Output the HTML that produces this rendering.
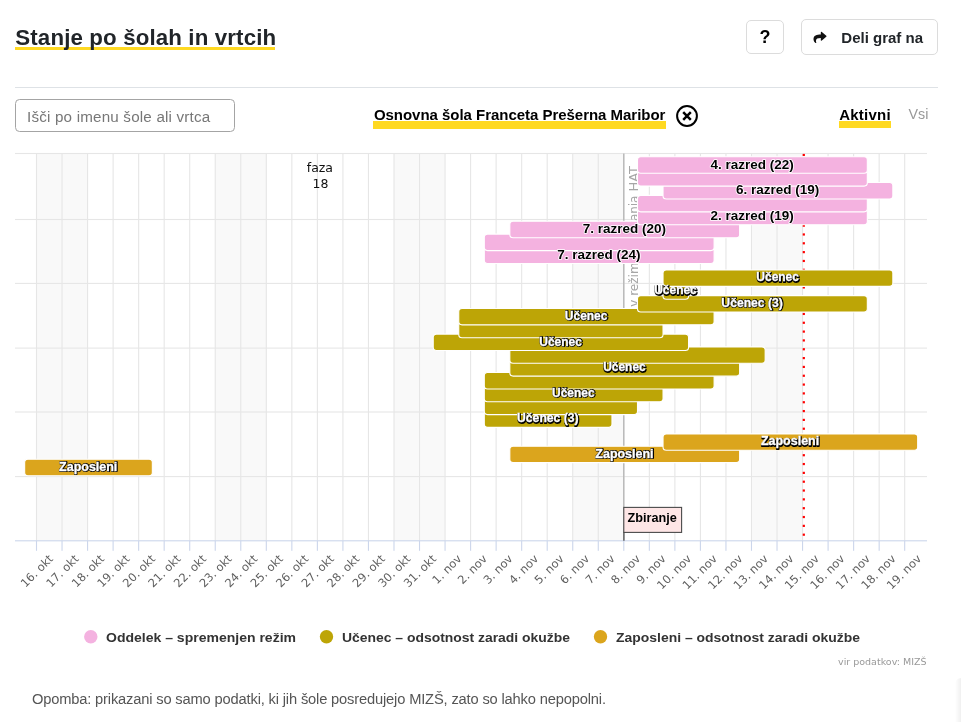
<!DOCTYPE html>
<html lang="sl"><head><meta charset="utf-8"><title>Stanje po šolah in vrtcih</title>
<style>
html,body{margin:0;padding:0;background:#fff;}
body{width:961px;height:722px;position:relative;overflow:hidden;font-family:"Liberation Sans",sans-serif;color:#212529;}
.abs{position:absolute;white-space:nowrap;line-height:1;}
.title{left:15.3px;top:27px;font-size:22.3px;font-weight:bold;color:#212529;letter-spacing:0.13px;}
.title span{display:inline-block;}
.tul{left:15px;top:46.9px;width:260px;height:3.6px;background:#ffd922;}
.btn{border:1px solid #dcdcdc;border-radius:5px;box-sizing:border-box;background:#fff;}
.sep{left:15px;top:86.7px;width:923px;height:1.1px;background:#dee2e6;}
.inp{left:15px;top:99.4px;width:219.7px;height:32.5px;border:1px solid #a4a4a4;border-radius:4.5px;box-sizing:border-box;}
.dl{font-family:"Liberation Sans",sans-serif;font-weight:bold;font-size:12.5px;}
.dk{fill:#000;stroke:#fff;stroke-width:1.6px;paint-order:stroke;stroke-linejoin:round;}
.sh{fill:#000;stroke:#000;stroke-width:1.9px;stroke-linejoin:round;}
.lt{fill:#fff;stroke:#fff;stroke-width:0.35px;}
.xl{font-family:"DejaVu Sans","Liberation Sans",sans-serif;font-size:11.5px;fill:#5e5e5e;}
</style></head><body>
<div class="abs tul"></div>
<div class="abs title" id="title">Stanje po šolah in vrtcih</div>
<div class="abs btn" style="left:745.5px;top:19.8px;width:38px;height:34px;"></div>
<div class="abs" id="q" style="left:759.5px;top:28px;font-size:18px;font-weight:bold;color:#000;">?</div>
<div class="abs btn" style="left:801.3px;top:18.8px;width:136.4px;height:36.2px;"></div>
<svg class="abs" style="left:812.8px;top:31.2px" width="14" height="11.4" viewBox="0 0 512 448"><path fill="#111" d="M503.7 189.8L327.7 37.9C312.3 24.5 288 35.3 288 56v80.1C127.4 137.9 0 170.1 0 322.3c0 61.4 39.6 122.3 83.3 154.1 13.7 9.9 33.1-2.5 28.1-18.6C66.1 312.8 133 274.3 288 272.1V360c0 20.7 24.3 31.5 39.7 18.2l176-152c11.1-9.6 11.1-26.8 0-36.4z"/></svg>
<div class="abs" id="deli" style="left:841.3px;top:30.2px;font-size:15px;font-weight:bold;color:#212529;">Deli graf na</div>
<div class="abs sep"></div>
<div class="abs inp"></div>
<div class="abs" id="ph" style="left:27px;top:108.5px;font-size:15.2px;color:#777;letter-spacing:0.19px;">Išči po imenu šole ali vrtca</div>
<div class="abs" style="left:373px;top:120.7px;width:293px;height:7.9px;background:#ffd922;"></div>
<div class="abs" id="school" style="left:373.9px;top:106.6px;font-size:15px;font-weight:bold;color:#000;letter-spacing:-0.03px;">Osnovna šola Franceta Prešerna Maribor</div>
<svg class="abs" style="left:675.2px;top:104.1px" width="24" height="24" viewBox="0 0 24 24"><circle cx="12" cy="12" r="9.9" fill="none" stroke="#000" stroke-width="2"/><path d="M8.2 8.2L15.8 15.8M15.8 8.2L8.2 15.8" stroke="#000" stroke-width="2.5" stroke-linecap="butt"/></svg>
<div class="abs" style="left:838.8px;top:120.6px;width:52.4px;height:7.9px;background:#ffd922;"></div>
<div class="abs" id="akt" style="left:839.2px;top:106.6px;font-size:15px;font-weight:bold;color:#000;letter-spacing:0.25px;">Aktivni</div>
<div class="abs" id="vsi" style="left:908.5px;top:107px;font-size:14.3px;color:#999;">Vsi</div>
<svg width="961" height="722" viewBox="0 0 961 722" style="position:absolute;left:0;top:0">
<rect x="36.50" y="153.50" width="51.07" height="387.30" fill="#f9f9f9"/>
<rect x="215.25" y="153.50" width="51.07" height="387.30" fill="#f9f9f9"/>
<rect x="393.99" y="153.50" width="51.07" height="387.30" fill="#f9f9f9"/>
<rect x="572.74" y="153.50" width="51.07" height="387.30" fill="#f9f9f9"/>
<rect x="751.48" y="153.50" width="51.07" height="387.30" fill="#f9f9f9"/>
<rect x="35.95" y="153.50" width="1.1" height="387.30" fill="#e6e6e6"/>
<rect x="61.48" y="153.50" width="1.1" height="387.30" fill="#e6e6e6"/>
<rect x="87.02" y="153.50" width="1.1" height="387.30" fill="#e6e6e6"/>
<rect x="112.56" y="153.50" width="1.1" height="387.30" fill="#e6e6e6"/>
<rect x="138.09" y="153.50" width="1.1" height="387.30" fill="#e6e6e6"/>
<rect x="163.62" y="153.50" width="1.1" height="387.30" fill="#e6e6e6"/>
<rect x="189.16" y="153.50" width="1.1" height="387.30" fill="#e6e6e6"/>
<rect x="214.69" y="153.50" width="1.1" height="387.30" fill="#e6e6e6"/>
<rect x="240.23" y="153.50" width="1.1" height="387.30" fill="#e6e6e6"/>
<rect x="265.76" y="153.50" width="1.1" height="387.30" fill="#e6e6e6"/>
<rect x="291.30" y="153.50" width="1.1" height="387.30" fill="#e6e6e6"/>
<rect x="316.83" y="153.50" width="1.1" height="387.30" fill="#e6e6e6"/>
<rect x="342.37" y="153.50" width="1.1" height="387.30" fill="#e6e6e6"/>
<rect x="367.90" y="153.50" width="1.1" height="387.30" fill="#e6e6e6"/>
<rect x="393.44" y="153.50" width="1.1" height="387.30" fill="#e6e6e6"/>
<rect x="418.97" y="153.50" width="1.1" height="387.30" fill="#e6e6e6"/>
<rect x="444.51" y="153.50" width="1.1" height="387.30" fill="#e6e6e6"/>
<rect x="470.05" y="153.50" width="1.1" height="387.30" fill="#e6e6e6"/>
<rect x="495.58" y="153.50" width="1.1" height="387.30" fill="#e6e6e6"/>
<rect x="521.12" y="153.50" width="1.1" height="387.30" fill="#e6e6e6"/>
<rect x="546.65" y="153.50" width="1.1" height="387.30" fill="#e6e6e6"/>
<rect x="572.19" y="153.50" width="1.1" height="387.30" fill="#e6e6e6"/>
<rect x="597.72" y="153.50" width="1.1" height="387.30" fill="#e6e6e6"/>
<rect x="623.25" y="153.50" width="1.1" height="387.30" fill="#e6e6e6"/>
<rect x="648.79" y="153.50" width="1.1" height="387.30" fill="#e6e6e6"/>
<rect x="674.33" y="153.50" width="1.1" height="387.30" fill="#e6e6e6"/>
<rect x="699.86" y="153.50" width="1.1" height="387.30" fill="#e6e6e6"/>
<rect x="725.40" y="153.50" width="1.1" height="387.30" fill="#e6e6e6"/>
<rect x="750.93" y="153.50" width="1.1" height="387.30" fill="#e6e6e6"/>
<rect x="776.47" y="153.50" width="1.1" height="387.30" fill="#e6e6e6"/>
<rect x="802.00" y="153.50" width="1.1" height="387.30" fill="#e6e6e6"/>
<rect x="827.54" y="153.50" width="1.1" height="387.30" fill="#e6e6e6"/>
<rect x="853.07" y="153.50" width="1.1" height="387.30" fill="#e6e6e6"/>
<rect x="878.61" y="153.50" width="1.1" height="387.30" fill="#e6e6e6"/>
<rect x="904.14" y="153.50" width="1.1" height="387.30" fill="#e6e6e6"/>
<rect x="15" y="152.95" width="912" height="1.1" fill="#e6e6e6"/>
<rect x="15" y="218.95" width="912" height="1.1" fill="#e6e6e6"/>
<rect x="15" y="282.85" width="912" height="1.1" fill="#e6e6e6"/>
<rect x="15" y="347.55" width="912" height="1.1" fill="#e6e6e6"/>
<rect x="15" y="411.45" width="912" height="1.1" fill="#e6e6e6"/>
<rect x="15" y="476.05" width="912" height="1.1" fill="#e6e6e6"/>
<rect x="623.15" y="153.50" width="1.3" height="387.30" fill="#b4b4b4"/>
<text transform="translate(637.6,166) rotate(-90)" text-anchor="end" textLength="25.5" lengthAdjust="spacingAndGlyphs" font-family="'DejaVu Sans','Liberation Sans',sans-serif" font-size="12.2" fill="#a6a6a6">HAT</text>
<text transform="translate(637.6,195.6) rotate(-90)" text-anchor="end" textLength="56.6" lengthAdjust="spacingAndGlyphs" font-family="'DejaVu Sans','Liberation Sans',sans-serif" font-size="12.2" fill="#a6a6a6">testiranja</text>
<text transform="translate(637.6,254.8) rotate(-90)" text-anchor="end" textLength="128.8" lengthAdjust="spacingAndGlyphs" font-family="'DejaVu Sans','Liberation Sans',sans-serif" font-size="12.2" fill="#a6a6a6">Sprememba v režimu</text>
<text font-family="'DejaVu Sans','Liberation Sans',sans-serif" font-size="12.5" fill="#111" text-anchor="middle"><tspan x="319.9" y="171.8">faza</tspan><tspan x="320.5" y="187.8">18</tspan></text>
<rect x="802.70" y="153.90" width="2.2" height="2.2" fill="#ff0000"/>
<rect x="802.70" y="162.73" width="2.2" height="2.2" fill="#ff0000"/>
<rect x="802.70" y="171.56" width="2.2" height="2.2" fill="#ff0000"/>
<rect x="802.70" y="180.39" width="2.2" height="2.2" fill="#ff0000"/>
<rect x="802.70" y="189.22" width="2.2" height="2.2" fill="#ff0000"/>
<rect x="802.70" y="198.05" width="2.2" height="2.2" fill="#ff0000"/>
<rect x="802.70" y="206.88" width="2.2" height="2.2" fill="#ff0000"/>
<rect x="802.70" y="215.71" width="2.2" height="2.2" fill="#ff0000"/>
<rect x="802.70" y="224.54" width="2.2" height="2.2" fill="#ff0000"/>
<rect x="802.70" y="233.37" width="2.2" height="2.2" fill="#ff0000"/>
<rect x="802.70" y="242.20" width="2.2" height="2.2" fill="#ff0000"/>
<rect x="802.70" y="251.03" width="2.2" height="2.2" fill="#ff0000"/>
<rect x="802.70" y="259.86" width="2.2" height="2.2" fill="#ff0000"/>
<rect x="802.70" y="268.69" width="2.2" height="2.2" fill="#ff0000"/>
<rect x="802.70" y="277.52" width="2.2" height="2.2" fill="#ff0000"/>
<rect x="802.70" y="286.35" width="2.2" height="2.2" fill="#ff0000"/>
<rect x="802.70" y="295.18" width="2.2" height="2.2" fill="#ff0000"/>
<rect x="802.70" y="304.01" width="2.2" height="2.2" fill="#ff0000"/>
<rect x="802.70" y="312.84" width="2.2" height="2.2" fill="#ff0000"/>
<rect x="802.70" y="321.67" width="2.2" height="2.2" fill="#ff0000"/>
<rect x="802.70" y="330.50" width="2.2" height="2.2" fill="#ff0000"/>
<rect x="802.70" y="339.33" width="2.2" height="2.2" fill="#ff0000"/>
<rect x="802.70" y="348.16" width="2.2" height="2.2" fill="#ff0000"/>
<rect x="802.70" y="356.99" width="2.2" height="2.2" fill="#ff0000"/>
<rect x="802.70" y="365.82" width="2.2" height="2.2" fill="#ff0000"/>
<rect x="802.70" y="374.65" width="2.2" height="2.2" fill="#ff0000"/>
<rect x="802.70" y="383.48" width="2.2" height="2.2" fill="#ff0000"/>
<rect x="802.70" y="392.31" width="2.2" height="2.2" fill="#ff0000"/>
<rect x="802.70" y="401.14" width="2.2" height="2.2" fill="#ff0000"/>
<rect x="802.70" y="409.97" width="2.2" height="2.2" fill="#ff0000"/>
<rect x="802.70" y="418.80" width="2.2" height="2.2" fill="#ff0000"/>
<rect x="802.70" y="427.63" width="2.2" height="2.2" fill="#ff0000"/>
<rect x="802.70" y="436.46" width="2.2" height="2.2" fill="#ff0000"/>
<rect x="802.70" y="445.29" width="2.2" height="2.2" fill="#ff0000"/>
<rect x="802.70" y="454.12" width="2.2" height="2.2" fill="#ff0000"/>
<rect x="802.70" y="462.95" width="2.2" height="2.2" fill="#ff0000"/>
<rect x="802.70" y="471.78" width="2.2" height="2.2" fill="#ff0000"/>
<rect x="802.70" y="480.61" width="2.2" height="2.2" fill="#ff0000"/>
<rect x="802.70" y="489.44" width="2.2" height="2.2" fill="#ff0000"/>
<rect x="802.70" y="498.27" width="2.2" height="2.2" fill="#ff0000"/>
<rect x="802.70" y="507.10" width="2.2" height="2.2" fill="#ff0000"/>
<rect x="802.70" y="515.93" width="2.2" height="2.2" fill="#ff0000"/>
<rect x="802.70" y="524.76" width="2.2" height="2.2" fill="#ff0000"/>
<rect x="802.70" y="533.59" width="2.2" height="2.2" fill="#ff0000"/>
<rect x="24.66" y="459.30" width="127.68" height="16.40" rx="3.3" ry="3.3" fill="#dba51d" stroke="#fff" stroke-width="1.1"/>
<rect x="509.82" y="446.20" width="229.81" height="16.40" rx="3.3" ry="3.3" fill="#dba51d" stroke="#fff" stroke-width="1.1"/>
<rect x="663.03" y="433.90" width="254.65" height="16.40" rx="3.3" ry="3.3" fill="#dba51d" stroke="#fff" stroke-width="1.1"/>
<rect x="484.29" y="411.02" width="127.68" height="16.40" rx="3.3" ry="3.3" fill="#bda506" stroke="#fff" stroke-width="1.1"/>
<rect x="484.29" y="398.20" width="153.21" height="16.40" rx="3.3" ry="3.3" fill="#bda506" stroke="#fff" stroke-width="1.1"/>
<rect x="484.29" y="385.38" width="178.75" height="16.40" rx="3.3" ry="3.3" fill="#bda506" stroke="#fff" stroke-width="1.1"/>
<rect x="484.29" y="372.56" width="229.82" height="16.40" rx="3.3" ry="3.3" fill="#bda506" stroke="#fff" stroke-width="1.1"/>
<rect x="509.82" y="359.74" width="229.81" height="16.40" rx="3.3" ry="3.3" fill="#bda506" stroke="#fff" stroke-width="1.1"/>
<rect x="509.82" y="346.92" width="255.35" height="16.40" rx="3.3" ry="3.3" fill="#bda506" stroke="#fff" stroke-width="1.1"/>
<rect x="433.22" y="334.10" width="255.35" height="16.40" rx="3.3" ry="3.3" fill="#bda506" stroke="#fff" stroke-width="1.1"/>
<rect x="458.75" y="321.28" width="204.28" height="16.40" rx="3.3" ry="3.3" fill="#bda506" stroke="#fff" stroke-width="1.1"/>
<rect x="458.75" y="308.46" width="255.35" height="16.40" rx="3.3" ry="3.3" fill="#bda506" stroke="#fff" stroke-width="1.1"/>
<rect x="637.50" y="295.64" width="229.82" height="16.40" rx="3.3" ry="3.3" fill="#bda506" stroke="#fff" stroke-width="1.1"/>
<rect x="663.03" y="282.82" width="25.54" height="16.40" rx="3.3" ry="3.3" fill="#bda506" stroke="#fff" stroke-width="1.1"/>
<rect x="663.03" y="270.00" width="229.82" height="16.40" rx="3.3" ry="3.3" fill="#bda506" stroke="#fff" stroke-width="1.1"/>
<rect x="484.29" y="247.00" width="229.82" height="16.50" rx="3.3" ry="3.3" fill="#f4b2e0" stroke="#fff" stroke-width="1.1"/>
<rect x="484.29" y="234.10" width="229.82" height="16.50" rx="3.3" ry="3.3" fill="#f4b2e0" stroke="#fff" stroke-width="1.1"/>
<rect x="509.82" y="221.20" width="229.81" height="16.50" rx="3.3" ry="3.3" fill="#f4b2e0" stroke="#fff" stroke-width="1.1"/>
<rect x="637.50" y="208.30" width="229.82" height="16.50" rx="3.3" ry="3.3" fill="#f4b2e0" stroke="#fff" stroke-width="1.1"/>
<rect x="637.50" y="195.40" width="229.82" height="16.50" rx="3.3" ry="3.3" fill="#f4b2e0" stroke="#fff" stroke-width="1.1"/>
<rect x="663.03" y="182.50" width="229.82" height="16.50" rx="3.3" ry="3.3" fill="#f4b2e0" stroke="#fff" stroke-width="1.1"/>
<rect x="637.50" y="169.60" width="229.82" height="16.50" rx="3.3" ry="3.3" fill="#f4b2e0" stroke="#fff" stroke-width="1.1"/>
<rect x="637.50" y="156.70" width="229.82" height="16.50" rx="3.3" ry="3.3" fill="#f4b2e0" stroke="#fff" stroke-width="1.1"/>
<text x="752.11" y="168.50" text-anchor="middle" textLength="83.3" lengthAdjust="spacingAndGlyphs" class="dl dk">4. razred (22)</text>
<text x="777.64" y="194.30" text-anchor="middle" textLength="83.3" lengthAdjust="spacingAndGlyphs" class="dl dk">6. razred (19)</text>
<text x="752.11" y="220.10" text-anchor="middle" textLength="83.3" lengthAdjust="spacingAndGlyphs" class="dl dk">2. razred (19)</text>
<text x="624.43" y="233.00" text-anchor="middle" textLength="83.3" lengthAdjust="spacingAndGlyphs" class="dl dk">7. razred (20)</text>
<text x="598.90" y="258.80" text-anchor="middle" textLength="83.3" lengthAdjust="spacingAndGlyphs" class="dl dk">7. razred (24)</text>
<text x="778.09" y="281.80" text-anchor="middle" textLength="42.6" lengthAdjust="spacingAndGlyphs" class="dl sh">Učenec</text>
<text x="777.64" y="281.40" text-anchor="middle" textLength="42.6" lengthAdjust="spacingAndGlyphs" class="dl lt">Učenec</text>
<text x="675.95" y="294.62" text-anchor="middle" textLength="42.6" lengthAdjust="spacingAndGlyphs" class="dl sh">Učenec</text>
<text x="675.50" y="294.22" text-anchor="middle" textLength="42.6" lengthAdjust="spacingAndGlyphs" class="dl lt">Učenec</text>
<text x="752.56" y="307.44" text-anchor="middle" textLength="61.5" lengthAdjust="spacingAndGlyphs" class="dl sh">Učenec (3)</text>
<text x="752.11" y="307.04" text-anchor="middle" textLength="61.5" lengthAdjust="spacingAndGlyphs" class="dl lt">Učenec (3)</text>
<text x="586.58" y="320.26" text-anchor="middle" textLength="42.6" lengthAdjust="spacingAndGlyphs" class="dl sh">Učenec</text>
<text x="586.13" y="319.86" text-anchor="middle" textLength="42.6" lengthAdjust="spacingAndGlyphs" class="dl lt">Učenec</text>
<text x="561.05" y="345.90" text-anchor="middle" textLength="42.6" lengthAdjust="spacingAndGlyphs" class="dl sh">Učenec</text>
<text x="560.60" y="345.50" text-anchor="middle" textLength="42.6" lengthAdjust="spacingAndGlyphs" class="dl lt">Učenec</text>
<text x="624.88" y="371.54" text-anchor="middle" textLength="42.6" lengthAdjust="spacingAndGlyphs" class="dl sh">Učenec</text>
<text x="624.43" y="371.14" text-anchor="middle" textLength="42.6" lengthAdjust="spacingAndGlyphs" class="dl lt">Učenec</text>
<text x="573.81" y="397.18" text-anchor="middle" textLength="42.6" lengthAdjust="spacingAndGlyphs" class="dl sh">Učenec</text>
<text x="573.36" y="396.78" text-anchor="middle" textLength="42.6" lengthAdjust="spacingAndGlyphs" class="dl lt">Učenec</text>
<text x="548.28" y="422.82" text-anchor="middle" textLength="61.5" lengthAdjust="spacingAndGlyphs" class="dl sh">Učenec (3)</text>
<text x="547.83" y="422.42" text-anchor="middle" textLength="61.5" lengthAdjust="spacingAndGlyphs" class="dl lt">Učenec (3)</text>
<text x="790.51" y="445.70" text-anchor="middle" textLength="58.2" lengthAdjust="spacingAndGlyphs" class="dl sh">Zaposleni</text>
<text x="790.06" y="445.30" text-anchor="middle" textLength="58.2" lengthAdjust="spacingAndGlyphs" class="dl lt">Zaposleni</text>
<text x="624.88" y="458.00" text-anchor="middle" textLength="58.2" lengthAdjust="spacingAndGlyphs" class="dl sh">Zaposleni</text>
<text x="624.43" y="457.60" text-anchor="middle" textLength="58.2" lengthAdjust="spacingAndGlyphs" class="dl lt">Zaposleni</text>
<text x="88.65" y="471.10" text-anchor="middle" textLength="58.2" lengthAdjust="spacingAndGlyphs" class="dl sh">Zaposleni</text>
<text x="88.20" y="470.70" text-anchor="middle" textLength="58.2" lengthAdjust="spacingAndGlyphs" class="dl lt">Zaposleni</text>
<rect x="15" y="540.25" width="912" height="1.1" fill="#ccd6eb"/>
<rect x="35.95" y="540.80" width="1.1" height="10" fill="#ccd6eb"/>
<rect x="61.48" y="540.80" width="1.1" height="10" fill="#ccd6eb"/>
<rect x="87.02" y="540.80" width="1.1" height="10" fill="#ccd6eb"/>
<rect x="112.56" y="540.80" width="1.1" height="10" fill="#ccd6eb"/>
<rect x="138.09" y="540.80" width="1.1" height="10" fill="#ccd6eb"/>
<rect x="163.62" y="540.80" width="1.1" height="10" fill="#ccd6eb"/>
<rect x="189.16" y="540.80" width="1.1" height="10" fill="#ccd6eb"/>
<rect x="214.69" y="540.80" width="1.1" height="10" fill="#ccd6eb"/>
<rect x="240.23" y="540.80" width="1.1" height="10" fill="#ccd6eb"/>
<rect x="265.76" y="540.80" width="1.1" height="10" fill="#ccd6eb"/>
<rect x="291.30" y="540.80" width="1.1" height="10" fill="#ccd6eb"/>
<rect x="316.83" y="540.80" width="1.1" height="10" fill="#ccd6eb"/>
<rect x="342.37" y="540.80" width="1.1" height="10" fill="#ccd6eb"/>
<rect x="367.90" y="540.80" width="1.1" height="10" fill="#ccd6eb"/>
<rect x="393.44" y="540.80" width="1.1" height="10" fill="#ccd6eb"/>
<rect x="418.97" y="540.80" width="1.1" height="10" fill="#ccd6eb"/>
<rect x="444.51" y="540.80" width="1.1" height="10" fill="#ccd6eb"/>
<rect x="470.05" y="540.80" width="1.1" height="10" fill="#ccd6eb"/>
<rect x="495.58" y="540.80" width="1.1" height="10" fill="#ccd6eb"/>
<rect x="521.12" y="540.80" width="1.1" height="10" fill="#ccd6eb"/>
<rect x="546.65" y="540.80" width="1.1" height="10" fill="#ccd6eb"/>
<rect x="572.19" y="540.80" width="1.1" height="10" fill="#ccd6eb"/>
<rect x="597.72" y="540.80" width="1.1" height="10" fill="#ccd6eb"/>
<rect x="623.25" y="540.80" width="1.1" height="10" fill="#ccd6eb"/>
<rect x="648.79" y="540.80" width="1.1" height="10" fill="#ccd6eb"/>
<rect x="674.33" y="540.80" width="1.1" height="10" fill="#ccd6eb"/>
<rect x="699.86" y="540.80" width="1.1" height="10" fill="#ccd6eb"/>
<rect x="725.40" y="540.80" width="1.1" height="10" fill="#ccd6eb"/>
<rect x="750.93" y="540.80" width="1.1" height="10" fill="#ccd6eb"/>
<rect x="776.47" y="540.80" width="1.1" height="10" fill="#ccd6eb"/>
<rect x="802.00" y="540.80" width="1.1" height="10" fill="#ccd6eb"/>
<rect x="827.54" y="540.80" width="1.1" height="10" fill="#ccd6eb"/>
<rect x="853.07" y="540.80" width="1.1" height="10" fill="#ccd6eb"/>
<rect x="878.61" y="540.80" width="1.1" height="10" fill="#ccd6eb"/>
<rect x="904.14" y="540.80" width="1.1" height="10" fill="#ccd6eb"/>
<rect x="623.30" y="531.80" width="1.2" height="9" fill="#555"/>
<rect x="623.80" y="507.4" width="57.8" height="25" fill="#fee6e6" stroke="#4a4a4a" stroke-width="1.1"/>
<text x="652.20" y="522.4" text-anchor="middle" textLength="49.3" lengthAdjust="spacingAndGlyphs" font-family="'Liberation Sans',sans-serif" font-weight="bold" font-size="12.6" fill="#000">Zbiranje</text>
<text transform="translate(53.80,559.50) rotate(-45)" text-anchor="end" class="xl">16. okt</text>
<text transform="translate(79.33,559.50) rotate(-45)" text-anchor="end" class="xl">17. okt</text>
<text transform="translate(104.87,559.50) rotate(-45)" text-anchor="end" class="xl">18. okt</text>
<text transform="translate(130.41,559.50) rotate(-45)" text-anchor="end" class="xl">19. okt</text>
<text transform="translate(155.94,559.50) rotate(-45)" text-anchor="end" class="xl">20. okt</text>
<text transform="translate(181.48,559.50) rotate(-45)" text-anchor="end" class="xl">21. okt</text>
<text transform="translate(207.01,559.50) rotate(-45)" text-anchor="end" class="xl">22. okt</text>
<text transform="translate(232.55,559.50) rotate(-45)" text-anchor="end" class="xl">23. okt</text>
<text transform="translate(258.08,559.50) rotate(-45)" text-anchor="end" class="xl">24. okt</text>
<text transform="translate(283.62,559.50) rotate(-45)" text-anchor="end" class="xl">25. okt</text>
<text transform="translate(309.15,559.50) rotate(-45)" text-anchor="end" class="xl">26. okt</text>
<text transform="translate(334.69,559.50) rotate(-45)" text-anchor="end" class="xl">27. okt</text>
<text transform="translate(360.22,559.50) rotate(-45)" text-anchor="end" class="xl">28. okt</text>
<text transform="translate(385.75,559.50) rotate(-45)" text-anchor="end" class="xl">29. okt</text>
<text transform="translate(411.29,559.50) rotate(-45)" text-anchor="end" class="xl">30. okt</text>
<text transform="translate(436.82,559.50) rotate(-45)" text-anchor="end" class="xl">31. okt</text>
<text transform="translate(462.36,559.50) rotate(-45)" text-anchor="end" class="xl">1. nov</text>
<text transform="translate(487.90,559.50) rotate(-45)" text-anchor="end" class="xl">2. nov</text>
<text transform="translate(513.43,559.50) rotate(-45)" text-anchor="end" class="xl">3. nov</text>
<text transform="translate(538.96,559.50) rotate(-45)" text-anchor="end" class="xl">4. nov</text>
<text transform="translate(564.50,559.50) rotate(-45)" text-anchor="end" class="xl">5. nov</text>
<text transform="translate(590.03,559.50) rotate(-45)" text-anchor="end" class="xl">6. nov</text>
<text transform="translate(615.57,559.50) rotate(-45)" text-anchor="end" class="xl">7. nov</text>
<text transform="translate(641.10,559.50) rotate(-45)" text-anchor="end" class="xl">8. nov</text>
<text transform="translate(666.64,559.50) rotate(-45)" text-anchor="end" class="xl">9. nov</text>
<text transform="translate(692.17,559.50) rotate(-45)" text-anchor="end" class="xl">10. nov</text>
<text transform="translate(717.71,559.50) rotate(-45)" text-anchor="end" class="xl">11. nov</text>
<text transform="translate(743.25,559.50) rotate(-45)" text-anchor="end" class="xl">12. nov</text>
<text transform="translate(768.78,559.50) rotate(-45)" text-anchor="end" class="xl">13. nov</text>
<text transform="translate(794.31,559.50) rotate(-45)" text-anchor="end" class="xl">14. nov</text>
<text transform="translate(819.85,559.50) rotate(-45)" text-anchor="end" class="xl">15. nov</text>
<text transform="translate(845.38,559.50) rotate(-45)" text-anchor="end" class="xl">16. nov</text>
<text transform="translate(870.92,559.50) rotate(-45)" text-anchor="end" class="xl">17. nov</text>
<text transform="translate(896.45,559.50) rotate(-45)" text-anchor="end" class="xl">18. nov</text>
<text transform="translate(921.99,559.50) rotate(-45)" text-anchor="end" class="xl">19. nov</text>
<circle cx="90.8" cy="636.8" r="6.7" fill="#f4b2e0"/>
<text x="106" y="641.6" textLength="190" lengthAdjust="spacingAndGlyphs" font-family="'Liberation Sans',sans-serif" font-weight="bold" font-size="13.2" fill="#333">Oddelek – spremenjen režim</text>
<circle cx="326.5" cy="636.8" r="6.7" fill="#bda506"/>
<text x="342" y="641.6" textLength="228" lengthAdjust="spacingAndGlyphs" font-family="'Liberation Sans',sans-serif" font-weight="bold" font-size="13.2" fill="#333">Učenec – odsotnost zaradi okužbe</text>
<circle cx="600.5" cy="636.8" r="6.7" fill="#dba51d"/>
<text x="616" y="641.6" textLength="244" lengthAdjust="spacingAndGlyphs" font-family="'Liberation Sans',sans-serif" font-weight="bold" font-size="13.2" fill="#333">Zaposleni – odsotnost zaradi okužbe</text>
<text x="926.5" y="664.5" text-anchor="end" font-family="'DejaVu Sans','Liberation Sans',sans-serif" font-size="9.5" fill="#999">vir podatkov: MIZŠ</text>
</svg>
<div class="abs" id="note" style="left:31.9px;top:692.2px;font-size:14.7px;color:#555;letter-spacing:-0.165px;">Opomba: prikazani so samo podatki, ki jih šole posredujejo MIZŠ, zato so lahko nepopolni.</div>
<div class="abs" style="right:0;top:678px;width:6px;height:44px;background:linear-gradient(to right,rgba(0,0,0,0),rgba(0,0,0,0.06));border-radius:12px 0 0 0;"></div>
</body></html>
